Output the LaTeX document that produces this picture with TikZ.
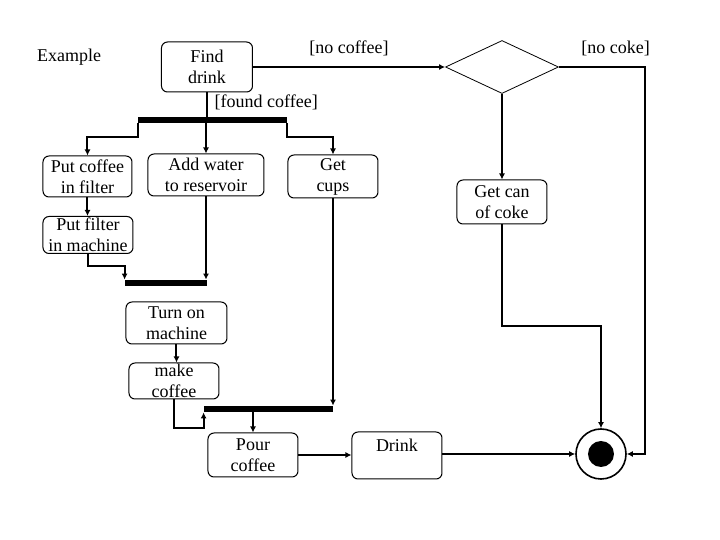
\documentclass[tikz,border=0pt]{standalone}
\usepackage{fontspec}
\setmainfont{Liberation Serif}
\usetikzlibrary{shapes.geometric,arrows.meta}

\begin{document}
\begin{tikzpicture}[x=0.5pt,y=-0.5pt,
	font=\fontsize{9}{10.5}\selectfont,
	act/.style={draw,rounded corners=3pt,line width=0.5pt,align=center,inner sep=0pt},
	bar/.style={fill=black,inner sep=0pt,minimum height=3pt},
	decision/.style={draw,diamond,line width=0.4pt,inner sep=0pt,minimum width=56.5pt,minimum height=26.5pt},
	line/.style={line width=1pt},
	arr/.style={line width=1pt,-{Latex[length=3pt,width=3pt]}}]
	\useasboundingbox (0,0) rectangle (720,540);
	%\draw[help lines] (0,0) grid[step=20] (720,540);
	\node (ex) at (69,57) {Example};
	\node[act,minimum width=45.5pt,minimum height=25pt] (find) at (207,67) {Find\\drink};
	\node[decision] (dec) at (502,67) {};
	\node[bar,minimum width=74.5pt] (fork) at (212.5,120) {};
	\node[act,minimum width=44.5pt,minimum height=20.5pt] (putcof) at (87.5,176.5) {Put coffee\\in filter};
	\node[act,minimum width=58pt,minimum height=21pt] (addw) at (206,175) {Add water\\to reservoir};
	\node[act,minimum width=45pt,minimum height=21.5pt] (cups) at (333,176.5) {Get\\cups};
	\node[act,minimum width=45pt,minimum height=18.5pt] (putfil) at (88,235) {Put filter\\in machine};
	\node[act,minimum width=45pt,minimum height=22pt] (coke) at (502,202) {Get can\\of coke};
	\node[bar,minimum width=41pt] (joina) at (166,283) {};
	\node[act,minimum width=50.5pt,minimum height=21pt] (turn) at (176.5,323) {Turn on\\machine};
	\node[act,minimum width=45pt,minimum height=18pt] (make) at (174,381) {make\\coffee};
	\node[bar,minimum width=64.5pt] (joinb) at (268.5,409) {};
	\node[act,minimum width=45pt,minimum height=22pt] (pour) at (253,455) {Pour\\coffee};
	\node[act,minimum width=45pt,minimum height=23.5pt] (drink) at (397,455.5) {Drink\\~};
	\node[draw,circle,line width=0.8pt,minimum size=25pt,inner sep=0pt] (final) at (601,454) {};
	\fill (final.center) circle [radius=6.5pt];
	% find drink
	\draw[arr] (find.east) -- node[above=1.5pt] {[no coffee]} (dec.west);
	\draw[line] (find.south) -- node[right,pos=0.4] {[found coffee]} (find.south |- fork.north);
	% fork
	\draw[arr] (fork.south west) -- ++(0,14) -| (putcof.north);
	\draw[arr] (fork.south -| addw.north) -- (addw.north);
	\draw[arr] (fork.south east) -- ++(0,14) -| (cups.north);
	\draw[arr] (putcof.south) -- (putcof.south |- putfil.north);
	% first join
	\draw[arr] (putfil.south) -- ++(0,12) -| (joina.north west);
	\draw[arr] (addw.south) -- (addw.south |- joina.north);
	\draw[arr] (turn.south) -- (turn.south |- make.north);
	% second join
	\draw[arr] (make.south) -- ++(0,29) -| (joinb.south west);
	\draw[arr] (cups.south) -- (cups.south |- joinb.north);
	\draw[arr] (joinb.south -| pour.north) -- (pour.north);
	\draw[arr] (pour.east) -- (pour.east -| drink.west);
	\draw[arr] (drink.east |- final.west) -- (final.west);
	% coke branch
	\draw[arr] (dec.south) -- (coke.north);
	\draw[arr] (coke.south) -- ++(0,102) -| (final.north);
	\draw[arr] (dec.east) -- node[above=1.5pt,pos=0.66] {[no coke]} ++(86,0) |- (final.east);
\end{tikzpicture}
\end{document}
